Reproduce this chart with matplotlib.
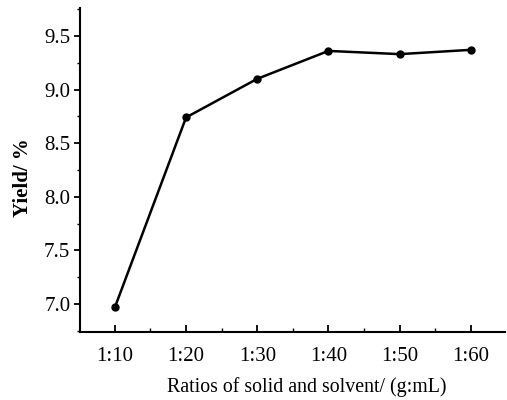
import matplotlib.pyplot as plt
from matplotlib.ticker import MultipleLocator

plt.rcParams['font.family'] = ['Liberation Serif', 'DejaVu Serif']

ratios = ['1:10', '1:20', '1:30', '1:40', '1:50', '1:60']
yields = [6.97, 8.74, 9.10, 9.36, 9.33, 9.37]

fig = plt.figure(figsize=(5.07, 4.00), dpi=100)
ax = fig.add_axes([80/507, 68/400, 425/507, 324/400])

x = list(range(len(ratios)))
ax.plot(x, yields, color='black', lw=1.8, marker='o', ms=5)

ax.set_xlim(-0.49, 5.48)
ax.set_ylim(6.74, 9.76)
ax.set_xticks(x)
ax.set_xticklabels(ratios)
ax.xaxis.set_minor_locator(MultipleLocator(0.5))
ax.yaxis.set_major_locator(MultipleLocator(0.5))
ax.yaxis.set_minor_locator(MultipleLocator(0.25))
ax.yaxis.set_major_formatter(plt.FormatStrFormatter('%.1f'))

ax.spines['top'].set_visible(False)
ax.spines['right'].set_visible(False)
ax.spines['left'].set_linewidth(1.5)
ax.spines['bottom'].set_linewidth(1.5)

ax.tick_params(axis='x', which='major', direction='in', length=5, width=1.3, labelsize=15, pad=11)
ax.tick_params(axis='x', which='minor', direction='in', length=3, width=1.0)
ax.tick_params(axis='y', which='major', direction='out', length=4, width=1.3, labelsize=15, pad=3)
ax.tick_params(axis='y', which='minor', direction='out', length=2, width=1.0)

ax.set_xlabel('Ratios of solid and solvent/ (g:mL)', fontsize=14.3)
ax.xaxis.set_label_coords(0.533, -0.14)
ax.set_ylabel('Yield/ %', fontsize=15, fontweight='bold')
ax.yaxis.set_label_coords(-0.11, 0.477)

fig.savefig('out.png', dpi=100)
